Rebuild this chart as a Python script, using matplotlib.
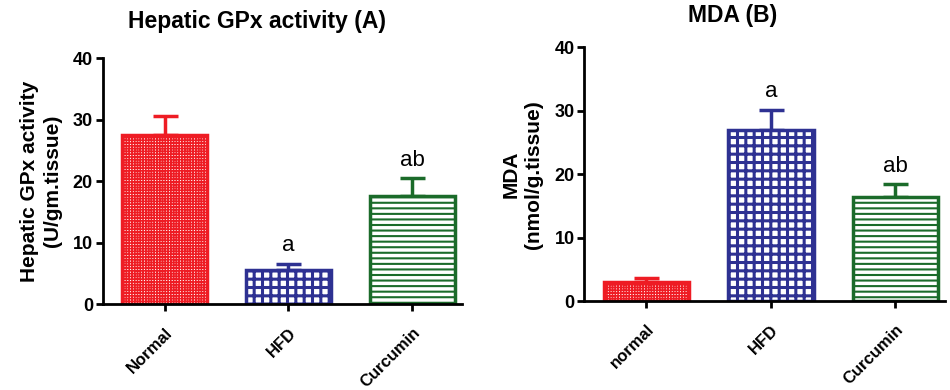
import numpy as np
import matplotlib
matplotlib.use("Agg")
import matplotlib.pyplot as plt

# data
groups_a = ["Normal", "HFD", "Curcumin"]
gpx_mean = [27.5, 5.5, 17.6]
gpx_err = [3.1, 1.1, 2.9]
gpx_sig = ["", "a", "ab"]

groups_b = ["normal", "HFD", "Curcumin"]
mda_mean = [3.0, 26.9, 16.4]
mda_err = [0.6, 3.2, 2.0]
mda_sig = ["", "a", "ab"]

colors = ["#ee1c24", "#2e3192", "#1b6b2a"]
hatches = ["++++++", "++", "---"]
hatch_lw = [1.2, 2.2, 1.5]

plt.rcParams["font.family"] = ["Liberation Sans", "DejaVu Sans"]
plt.rcParams["hatch.linewidth"] = 1.5

fig = plt.figure(figsize=(9.5, 3.9), dpi=100)
ax1 = fig.add_axes([0.108, 0.22, 0.378, 0.631])
ax2 = fig.add_axes([0.615, 0.228, 0.38, 0.651])


def draw(ax, names, vals, errs, sig, ylabel, title, tpad, tx):
    x = np.arange(len(names))
    for i in range(len(names)):
        b = ax.bar(x[i], vals[i], width=0.685, color="white", edgecolor=colors[i],
                   hatch=hatches[i], linewidth=2.5, zorder=2)
        for p in b.patches:
            if hasattr(p, "set_hatch_linewidth"):
                p.set_hatch_linewidth(hatch_lw[i])
        ax.errorbar(x[i], vals[i], yerr=[[0], [errs[i]]], fmt="none",
                    ecolor=colors[i], elinewidth=2.5, capsize=9, capthick=2.5, zorder=1)
        if sig[i]:
            ax.text(x[i], vals[i] + errs[i] + 1.2, sig[i], ha="center", va="bottom",
                    fontsize=16)
    ax.set_ylim(0, 40)
    ax.set_yticks([0, 10, 20, 30, 40])
    ax.set_xlim(-0.5, 2.4)
    ax.set_xticks(x)
    ax.set_xticklabels(names, rotation=45, ha="right", rotation_mode="anchor",
                       fontsize=12, fontweight="bold")
    for lab in ax.get_yticklabels():
        lab.set_fontweight("bold")
        lab.set_fontsize(13)
    ax.spines["top"].set_visible(False)
    ax.spines["right"].set_visible(False)
    ax.spines["left"].set_linewidth(2)
    ax.spines["bottom"].set_linewidth(2)
    ax.tick_params(width=2, length=5)
    ax.tick_params(axis="x", pad=10)
    ax.tick_params(axis="y", pad=2)
    ax.set_ylabel(ylabel, fontsize=15, fontweight="bold", labelpad=8,
                  linespacing=1.25)
    ax.set_title(title, fontsize=16.5, fontweight="bold", pad=tpad, x=tx)


draw(ax1, groups_a, gpx_mean, gpx_err, gpx_sig,
     "Hepatic GPx activity\n(U/gm.tissue)", "Hepatic GPx activity (A)", 22, 0.43)
draw(ax2, groups_b, mda_mean, mda_err, mda_sig,
     "MDA\n(nmol/g.tissue)", "MDA (B)", 18, 0.41)

fig.savefig("out.png", dpi=100)
